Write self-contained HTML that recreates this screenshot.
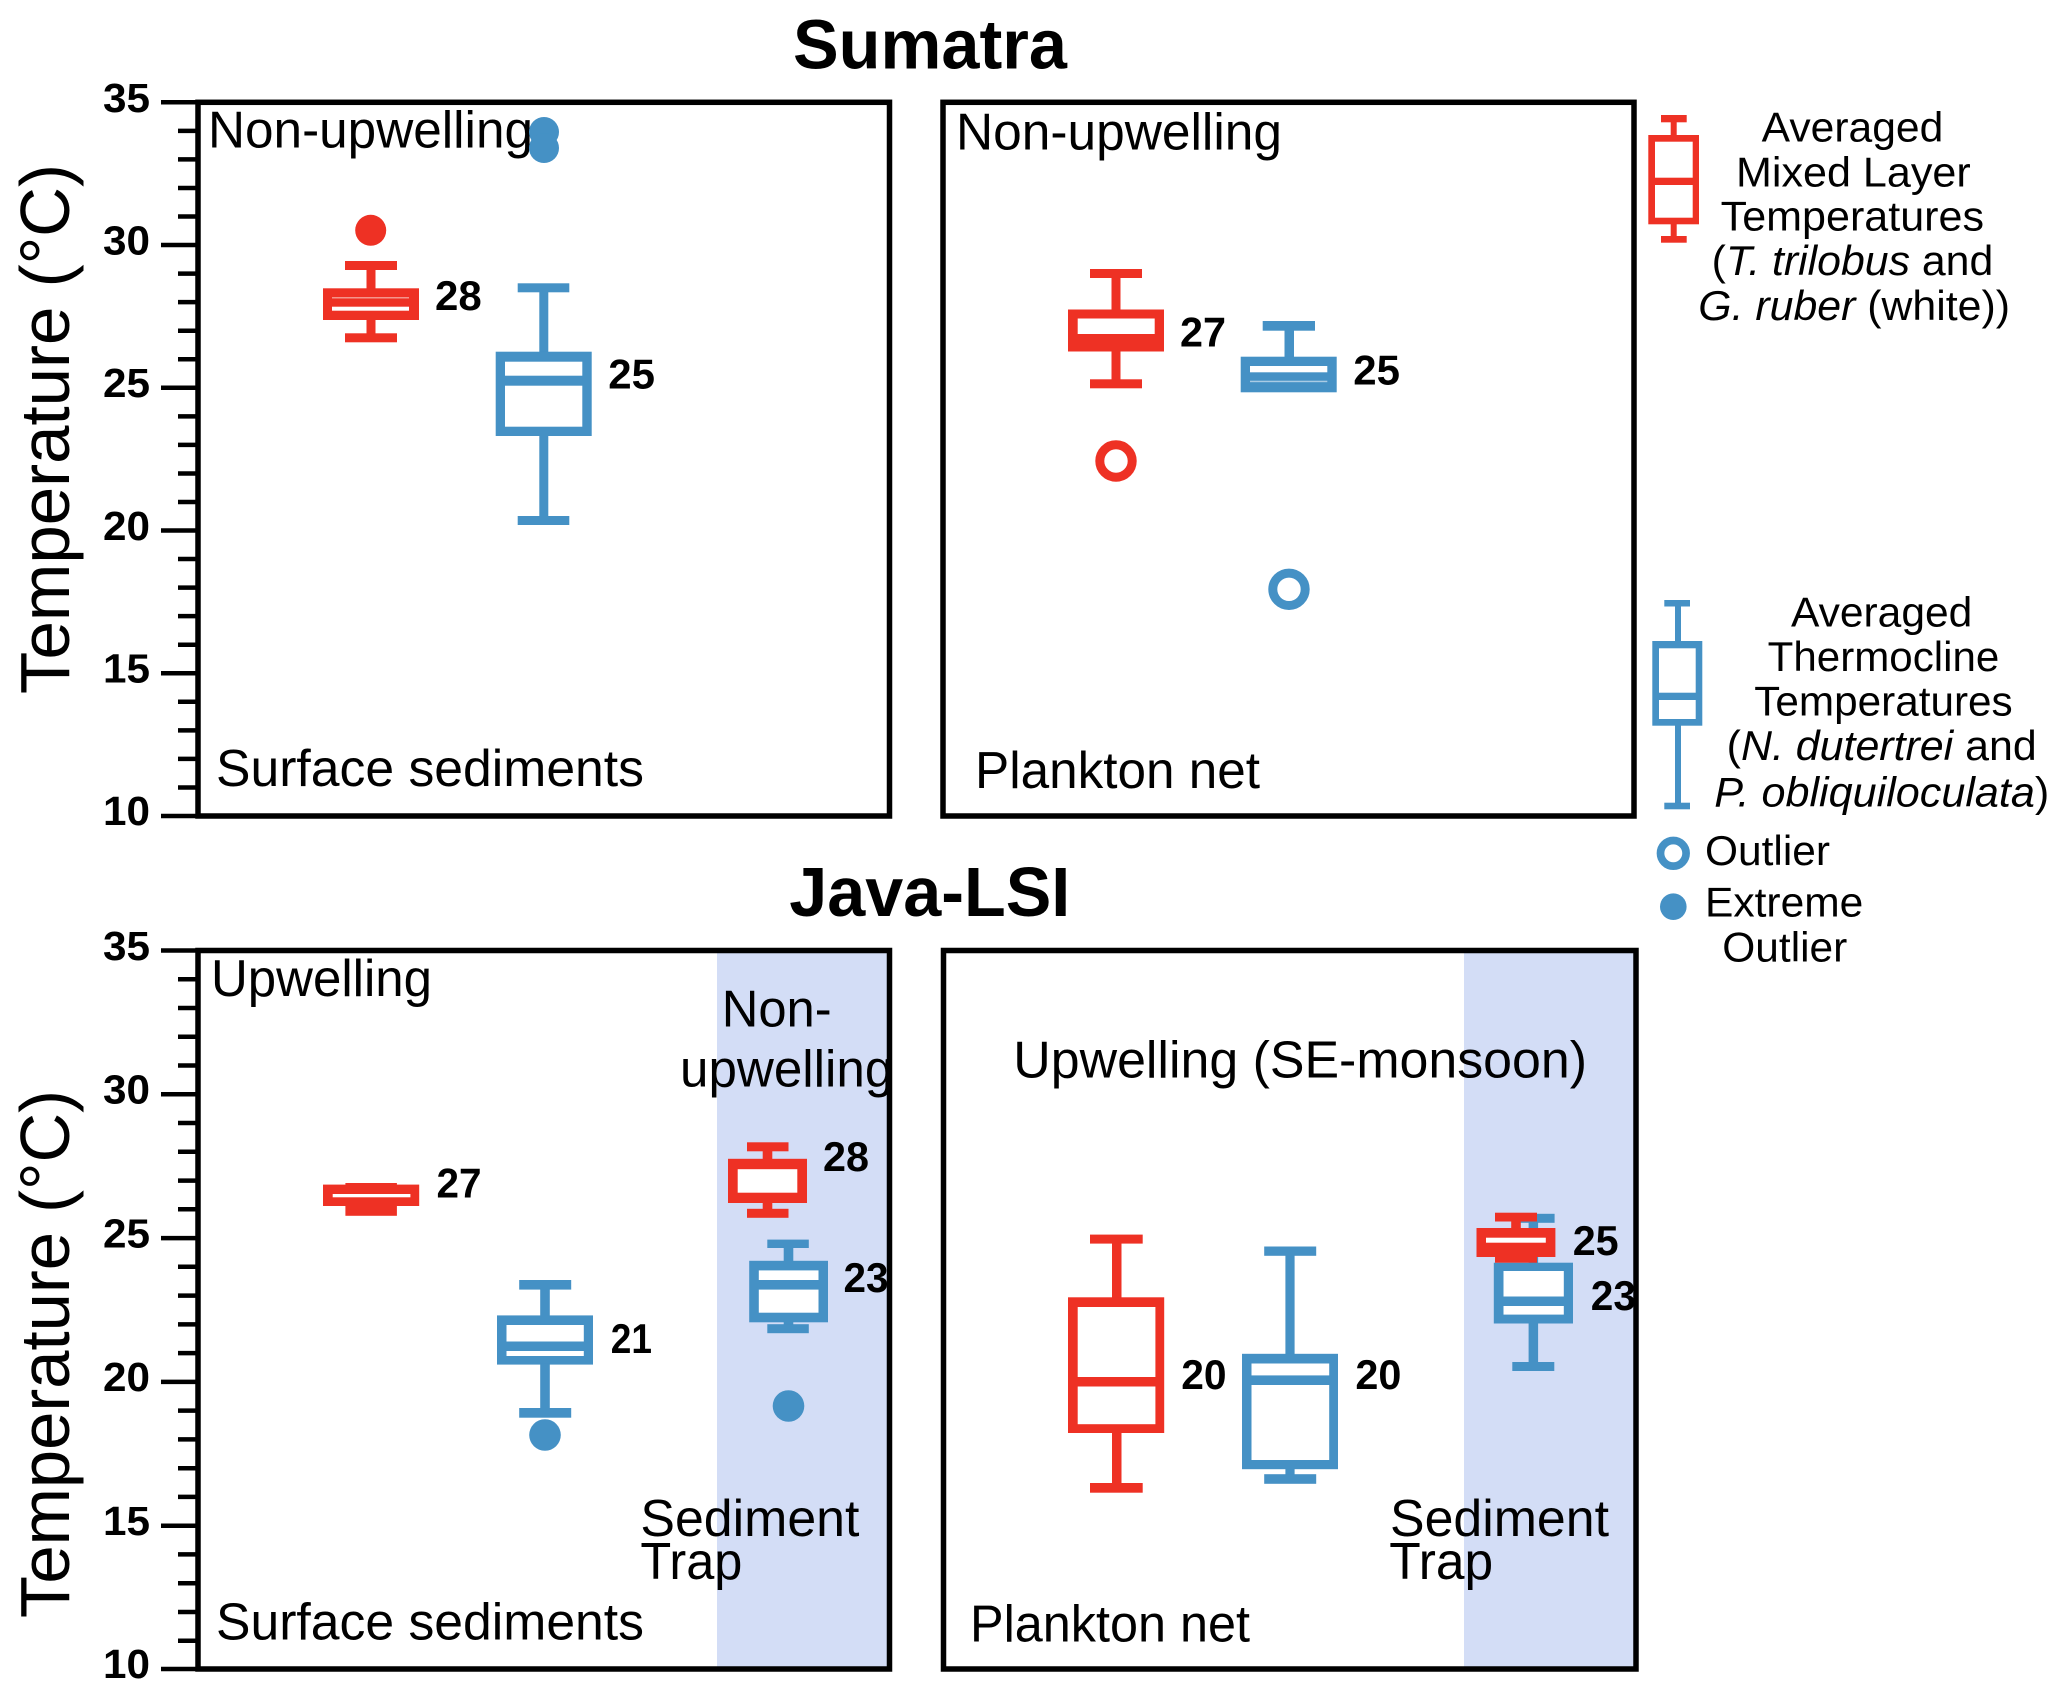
<!DOCTYPE html>
<html>
<head>
<meta charset="utf-8">
<style>
  html, body { margin: 0; padding: 0; background: #ffffff; }
  svg { display: block; }
  text { font-family: "Liberation Sans", Arial, sans-serif; fill: #000; }
  .lbl { font-size: 52px; }
  .num { font-size: 42px; font-weight: bold; }
  .tick { font-size: 41px; font-weight: bold; }
  .leg { font-size: 42px; }
  .ttl { font-size: 70px; font-weight: bold; }
  .r { fill: #ee3124; }
  .b { fill: #4591c5; }
  .w { fill: #ffffff; }
</style>
</head>
<body>
<svg width="2067" height="1693" viewBox="0 0 2067 1693" xmlns="http://www.w3.org/2000/svg">
  <rect x="0" y="0" width="2067" height="1693" fill="#ffffff"/>

  <!-- Titles -->
  <text class="ttl" x="793" y="68.3" textLength="274" lengthAdjust="spacingAndGlyphs">Sumatra</text>
  <text class="ttl" x="789.3" y="916" textLength="281" lengthAdjust="spacingAndGlyphs">Java-LSI</text>

  <!-- Shaded regions (bottom panels) -->
  <rect x="717" y="950.5" width="172.5" height="718.5" fill="#d3ddf6"/>
  <rect x="1464" y="950.5" width="172" height="718.5" fill="#d3ddf6"/>

  <!-- Frames -->
  <g fill="none" stroke="#000" stroke-width="5.5">
    <rect x="198" y="102.3" width="691.5" height="713.7"/>
    <rect x="943" y="102.3" width="691" height="713.7"/>
    <rect x="198" y="950.5" width="691.5" height="718.5"/>
    <rect x="943.5" y="950.5" width="692.5" height="718.5"/>
  </g>

  <!-- Ticks top panel -->
  <g stroke="#000" stroke-width="4.5">
    <line x1="161" y1="102.3" x2="198" y2="102.3"/>
    <line x1="178" y1="130.85" x2="198" y2="130.85"/>
    <line x1="178" y1="159.4" x2="198" y2="159.4"/>
    <line x1="178" y1="187.95" x2="198" y2="187.95"/>
    <line x1="178" y1="216.5" x2="198" y2="216.5"/>
    <line x1="161" y1="245.05" x2="198" y2="245.05"/>
    <line x1="178" y1="273.6" x2="198" y2="273.6"/>
    <line x1="178" y1="302.15" x2="198" y2="302.15"/>
    <line x1="178" y1="330.7" x2="198" y2="330.7"/>
    <line x1="178" y1="359.25" x2="198" y2="359.25"/>
    <line x1="161" y1="387.8" x2="198" y2="387.8"/>
    <line x1="178" y1="416.35" x2="198" y2="416.35"/>
    <line x1="178" y1="444.9" x2="198" y2="444.9"/>
    <line x1="178" y1="473.45" x2="198" y2="473.45"/>
    <line x1="178" y1="502" x2="198" y2="502"/>
    <line x1="161" y1="530.5" x2="198" y2="530.5"/>
    <line x1="178" y1="559.05" x2="198" y2="559.05"/>
    <line x1="178" y1="587.6" x2="198" y2="587.6"/>
    <line x1="178" y1="616.15" x2="198" y2="616.15"/>
    <line x1="178" y1="644.7" x2="198" y2="644.7"/>
    <line x1="161" y1="673.25" x2="198" y2="673.25"/>
    <line x1="178" y1="701.8" x2="198" y2="701.8"/>
    <line x1="178" y1="730.35" x2="198" y2="730.35"/>
    <line x1="178" y1="758.9" x2="198" y2="758.9"/>
    <line x1="178" y1="787.45" x2="198" y2="787.45"/>
    <line x1="161" y1="816" x2="198" y2="816"/>
  </g>
  <!-- Ticks bottom panel -->
  <g stroke="#000" stroke-width="4.5">
    <line x1="161" y1="950.5" x2="198" y2="950.5"/>
    <line x1="178" y1="979.26" x2="198" y2="979.26"/>
    <line x1="178" y1="1008.0" x2="198" y2="1008.0"/>
    <line x1="178" y1="1036.8" x2="198" y2="1036.8"/>
    <line x1="178" y1="1065.5" x2="198" y2="1065.5"/>
    <line x1="161" y1="1094.3" x2="198" y2="1094.3"/>
    <line x1="178" y1="1123.0" x2="198" y2="1123.0"/>
    <line x1="178" y1="1151.8" x2="198" y2="1151.8"/>
    <line x1="178" y1="1180.6" x2="198" y2="1180.6"/>
    <line x1="178" y1="1209.3" x2="198" y2="1209.3"/>
    <line x1="161" y1="1238.1" x2="198" y2="1238.1"/>
    <line x1="178" y1="1266.8" x2="198" y2="1266.8"/>
    <line x1="178" y1="1295.6" x2="198" y2="1295.6"/>
    <line x1="178" y1="1324.4" x2="198" y2="1324.4"/>
    <line x1="178" y1="1353.1" x2="198" y2="1353.1"/>
    <line x1="161" y1="1381.9" x2="198" y2="1381.9"/>
    <line x1="178" y1="1410.6" x2="198" y2="1410.6"/>
    <line x1="178" y1="1439.4" x2="198" y2="1439.4"/>
    <line x1="178" y1="1468.2" x2="198" y2="1468.2"/>
    <line x1="178" y1="1496.9" x2="198" y2="1496.9"/>
    <line x1="161" y1="1525.7" x2="198" y2="1525.7"/>
    <line x1="178" y1="1554.4" x2="198" y2="1554.4"/>
    <line x1="178" y1="1583.2" x2="198" y2="1583.2"/>
    <line x1="178" y1="1612.0" x2="198" y2="1612.0"/>
    <line x1="178" y1="1640.7" x2="198" y2="1640.7"/>
    <line x1="161" y1="1669" x2="198" y2="1669"/>
  </g>

  <!-- Tick labels top -->
  <g class="tick" text-anchor="end">
    <text class="tick" x="150" y="112" textLength="47" lengthAdjust="spacingAndGlyphs">35</text>
    <text class="tick" x="150" y="254.5" textLength="47" lengthAdjust="spacingAndGlyphs">30</text>
    <text class="tick" x="150" y="397" textLength="47" lengthAdjust="spacingAndGlyphs">25</text>
    <text class="tick" x="150" y="540" textLength="47" lengthAdjust="spacingAndGlyphs">20</text>
    <text class="tick" x="150" y="682.5" textLength="47" lengthAdjust="spacingAndGlyphs">15</text>
    <text class="tick" x="150" y="825" textLength="47" lengthAdjust="spacingAndGlyphs">10</text>
  </g>
  <!-- Tick labels bottom -->
  <g class="tick" text-anchor="end">
    <text class="tick" x="150" y="960" textLength="47" lengthAdjust="spacingAndGlyphs">35</text>
    <text class="tick" x="150" y="1103.5" textLength="47" lengthAdjust="spacingAndGlyphs">30</text>
    <text class="tick" x="150" y="1247.5" textLength="47" lengthAdjust="spacingAndGlyphs">25</text>
    <text class="tick" x="150" y="1391" textLength="47" lengthAdjust="spacingAndGlyphs">20</text>
    <text class="tick" x="150" y="1535" textLength="47" lengthAdjust="spacingAndGlyphs">15</text>
    <text class="tick" x="150" y="1678" textLength="47" lengthAdjust="spacingAndGlyphs">10</text>
  </g>

  <!-- Y axis labels -->
  <text x="0" y="0" font-size="70" text-anchor="middle" transform="translate(69,429) rotate(-90)" textLength="530" lengthAdjust="spacingAndGlyphs">Temperature (°C)</text>
  <text x="0" y="0" font-size="70" text-anchor="middle" transform="translate(69,1354) rotate(-90)" textLength="528" lengthAdjust="spacingAndGlyphs">Temperature (°C)</text>

  <!-- ============ Top-left panel ============ -->
  <text class="lbl" x="208" y="147.3" textLength="325" lengthAdjust="spacingAndGlyphs">Non-upwelling</text>
  <text class="lbl" x="216" y="786" textLength="428" lengthAdjust="spacingAndGlyphs">Surface sediments</text>

  <!-- red -->
  <circle cx="370.7" cy="230.3" r="15.5" class="r"/>
  <rect class="r" x="345" y="261" width="52" height="9"/>
  <rect class="r" x="366.5" y="269" width="9" height="20"/>
  <rect class="r" x="323" y="288.3" width="96" height="31.7"/>
  <rect x="332" y="297" width="77" height="1.5" fill="#f4958c"/>
  <rect class="w" x="332" y="306.7" width="77" height="4"/>
  <rect class="r" x="366.5" y="319" width="9" height="15"/>
  <rect class="r" x="345" y="333.3" width="52" height="9"/>
  <text class="num" x="435" y="310" textLength="46.7" lengthAdjust="spacingAndGlyphs">28</text>

  <!-- blue -->
  <circle cx="544" cy="132" r="15" class="b"/>
  <circle cx="544" cy="148" r="15" class="b"/>
  <rect class="b" x="517.7" y="283.3" width="51.6" height="9"/>
  <rect class="b" x="539.3" y="291" width="9" height="62"/>
  <rect class="b" x="495.7" y="351.7" width="96" height="84.3"/>
  <rect class="w" x="505" y="361.7" width="77.3" height="14"/>
  <rect class="w" x="505" y="385.7" width="77.3" height="41"/>
  <rect class="b" x="539.3" y="435" width="9" height="82"/>
  <rect class="b" x="517.7" y="516" width="51.6" height="9"/>
  <text class="num" x="608.3" y="388.3" textLength="46.7" lengthAdjust="spacingAndGlyphs">25</text>

  <!-- ============ Top-right panel ============ -->
  <text class="lbl" x="956" y="149.3" textLength="326" lengthAdjust="spacingAndGlyphs">Non-upwelling</text>
  <text class="lbl" x="975" y="788" textLength="285" lengthAdjust="spacingAndGlyphs">Plankton net</text>

  <!-- red -->
  <rect class="r" x="1090" y="269" width="52" height="9"/>
  <rect class="r" x="1111.5" y="277" width="9" height="33"/>
  <rect class="r" x="1068" y="309.5" width="96" height="42"/>
  <rect class="w" x="1077.7" y="318.5" width="77" height="15.5"/>
  <rect class="r" x="1111.5" y="351" width="9" height="29"/>
  <rect class="r" x="1090" y="379.3" width="52" height="9"/>
  <circle cx="1116" cy="461" r="16.2" fill="none" stroke="#ee3124" stroke-width="9"/>
  <text class="num" x="1180" y="346.7" textLength="46" lengthAdjust="spacingAndGlyphs">27</text>

  <!-- blue -->
  <rect class="b" x="1262.7" y="321" width="52.3" height="9.7"/>
  <rect class="b" x="1284.5" y="329" width="9.5" height="28.5"/>
  <rect class="b" x="1240.7" y="356.7" width="96" height="35.6"/>
  <rect class="w" x="1250" y="366" width="77.3" height="6.3"/>
  <rect x="1250" y="380.7" width="77.3" height="1.5" fill="#a9cbe4"/>
  <circle cx="1289" cy="589.3" r="16.2" fill="none" stroke="#4591c5" stroke-width="9"/>
  <text class="num" x="1353.3" y="384.3" textLength="46.7" lengthAdjust="spacingAndGlyphs">25</text>

  <!-- ============ Legend ============ -->
  <!-- red legend box -->
  <rect class="r" x="1661" y="115" width="25.7" height="7.3"/>
  <rect class="r" x="1670.7" y="121" width="6" height="15"/>
  <rect class="r" x="1648.3" y="135" width="50.7" height="89.3"/>
  <rect class="w" x="1655" y="141.7" width="37.7" height="36"/>
  <rect class="w" x="1655" y="185" width="37.7" height="32.7"/>
  <rect class="r" x="1670.7" y="223" width="6" height="14"/>
  <rect class="r" x="1661" y="236" width="25.7" height="6.7"/>

  <text class="leg" x="1761.7" y="141.7" textLength="181.6" lengthAdjust="spacingAndGlyphs">Averaged</text>
  <text class="leg" x="1736" y="186.7" textLength="234.7" lengthAdjust="spacingAndGlyphs">Mixed Layer</text>
  <text class="leg" x="1720.7" y="230.7" textLength="263.3" lengthAdjust="spacingAndGlyphs">Temperatures</text>
  <text class="leg" x="1711.7" y="275" textLength="281.6" lengthAdjust="spacingAndGlyphs">(<tspan font-style="italic">T. trilobus</tspan> and</text>
  <text class="leg" x="1698.3" y="320" textLength="311.7" lengthAdjust="spacingAndGlyphs"><tspan font-style="italic">G. ruber</tspan> (white))</text>

  <!-- blue legend box -->
  <rect class="b" x="1664.3" y="600" width="25.7" height="6.5"/>
  <rect class="b" x="1675" y="605" width="6" height="37"/>
  <rect class="b" x="1652.3" y="641" width="50" height="84.7"/>
  <rect class="w" x="1659" y="648.3" width="36.7" height="44.4"/>
  <rect class="w" x="1659" y="700" width="36.7" height="19"/>
  <rect class="b" x="1675" y="724.5" width="6" height="79"/>
  <rect class="b" x="1664.3" y="802.7" width="25.7" height="6.6"/>

  <text class="leg" x="1791" y="626.7" textLength="181.3" lengthAdjust="spacingAndGlyphs">Averaged</text>
  <text class="leg" x="1767.7" y="671" textLength="231.6" lengthAdjust="spacingAndGlyphs">Thermocline</text>
  <text class="leg" x="1754.3" y="715.7" textLength="258.4" lengthAdjust="spacingAndGlyphs">Temperatures</text>
  <text class="leg" x="1726.7" y="760" textLength="310" lengthAdjust="spacingAndGlyphs">(<tspan font-style="italic">N. dutertrei</tspan> and</text>
  <text class="leg" x="1714.3" y="806.7" textLength="335" lengthAdjust="spacingAndGlyphs"><tspan font-style="italic">P. obliquiloculata</tspan>)</text>

  <!-- outlier legend -->
  <circle cx="1673.3" cy="853.3" r="12.8" fill="none" stroke="#4591c5" stroke-width="7.7"/>
  <text class="leg" x="1705" y="865" textLength="125" lengthAdjust="spacingAndGlyphs">Outlier</text>
  <circle cx="1673.3" cy="906.7" r="13.3" class="b"/>
  <text class="leg" x="1705" y="916.7" textLength="158.3" lengthAdjust="spacingAndGlyphs">Extreme</text>
  <text class="leg" x="1722.3" y="961.7" textLength="125" lengthAdjust="spacingAndGlyphs">Outlier</text>

  <!-- ============ Bottom-left panel ============ -->
  <text class="lbl" x="211" y="996" textLength="221" lengthAdjust="spacingAndGlyphs">Upwelling</text>
  <text class="lbl" x="721.7" y="1026.7" textLength="110" lengthAdjust="spacingAndGlyphs">Non-</text>
  <text class="lbl" x="680" y="1086.7" textLength="213.3" lengthAdjust="spacingAndGlyphs">upwelling</text>
  <text class="lbl" x="640.4" y="1535.8" textLength="219" lengthAdjust="spacingAndGlyphs">Sediment</text>
  <text class="lbl" x="640.4" y="1579.2" textLength="102" lengthAdjust="spacingAndGlyphs">Trap</text>
  <text class="lbl" x="216" y="1639.6" textLength="428" lengthAdjust="spacingAndGlyphs">Surface sediments</text>

  <!-- red surface -->
  <rect class="r" x="345.4" y="1183" width="51.5" height="3"/>
  <rect class="r" x="323" y="1184.6" width="96.2" height="21.4"/>
  <rect class="w" x="332.7" y="1194" width="77.7" height="3.3"/>
  <rect class="r" x="345.4" y="1205.5" width="51.5" height="10.3"/>
  <text class="num" x="436.5" y="1197.3" textLength="45" lengthAdjust="spacingAndGlyphs">27</text>

  <!-- blue surface -->
  <rect class="b" x="519.2" y="1280" width="52" height="9.6"/>
  <rect class="b" x="540.2" y="1288" width="9.6" height="28"/>
  <rect class="b" x="497" y="1315.4" width="96" height="49.2"/>
  <rect class="w" x="506.5" y="1325" width="77.3" height="16.5"/>
  <rect class="w" x="506.5" y="1351" width="77.3" height="5"/>
  <rect class="b" x="540.2" y="1363.6" width="9.6" height="45"/>
  <rect class="b" x="519.2" y="1408" width="52" height="9.7"/>
  <circle cx="545" cy="1435" r="15.8" class="b"/>
  <text class="num" x="610.8" y="1353" textLength="41.2" lengthAdjust="spacingAndGlyphs">21</text>

  <!-- red trap -->
  <rect class="r" x="747" y="1142.3" width="41.5" height="9"/>
  <rect class="r" x="762.7" y="1150" width="9.6" height="10"/>
  <rect class="r" x="728" y="1158.8" width="79" height="44.2"/>
  <rect class="w" x="737.7" y="1169.2" width="59.6" height="23.5"/>
  <rect class="r" x="762.7" y="1202" width="9.6" height="8"/>
  <rect class="r" x="747" y="1208.8" width="41.5" height="9"/>
  <text class="num" x="823" y="1171" textLength="46" lengthAdjust="spacingAndGlyphs">28</text>

  <!-- blue trap -->
  <rect class="b" x="767.3" y="1239.6" width="41.5" height="8.4"/>
  <rect class="b" x="783.7" y="1247" width="9.6" height="15"/>
  <rect class="b" x="749.2" y="1260.8" width="78.8" height="61.5"/>
  <rect class="w" x="758.8" y="1270.4" width="59.7" height="9.6"/>
  <rect class="w" x="758.8" y="1289.6" width="59.7" height="23.1"/>
  <rect class="b" x="783.7" y="1321" width="9.6" height="4"/>
  <rect class="b" x="767.3" y="1324.2" width="41.5" height="9"/>
  <circle cx="788.5" cy="1406" r="15.8" class="b"/>
  <text class="num" x="843.5" y="1292" textLength="45" lengthAdjust="spacingAndGlyphs">23</text>

  <!-- ============ Bottom-right panel ============ -->
  <text class="lbl" x="1013.3" y="1077.3" textLength="573.7" lengthAdjust="spacingAndGlyphs">Upwelling (SE-monsoon)</text>
  <text class="lbl" x="1390" y="1535.8" textLength="219" lengthAdjust="spacingAndGlyphs">Sediment</text>
  <text class="lbl" x="1389.2" y="1579" textLength="104" lengthAdjust="spacingAndGlyphs">Trap</text>
  <text class="lbl" x="970" y="1641.5" textLength="280" lengthAdjust="spacingAndGlyphs">Plankton net</text>

  <!-- red plankton -->
  <rect class="r" x="1090" y="1234.6" width="52.7" height="9"/>
  <rect class="r" x="1112" y="1242.5" width="9.5" height="56"/>
  <rect class="r" x="1068" y="1297.3" width="96.2" height="135.7"/>
  <rect class="w" x="1077.7" y="1307" width="77.7" height="70"/>
  <rect class="w" x="1077.7" y="1386.5" width="77.7" height="37.7"/>
  <rect class="r" x="1112" y="1432" width="9.5" height="52"/>
  <rect class="r" x="1090" y="1483" width="52.7" height="9.7"/>
  <text class="num" x="1181.2" y="1388.8" textLength="45.3" lengthAdjust="spacingAndGlyphs">20</text>

  <!-- blue plankton -->
  <rect class="b" x="1264.2" y="1246.5" width="52" height="9.3"/>
  <rect class="b" x="1285.4" y="1255" width="9.2" height="100"/>
  <rect class="b" x="1242" y="1353.8" width="96" height="115.4"/>
  <rect class="w" x="1251.5" y="1363.5" width="77.7" height="11.9"/>
  <rect class="w" x="1251.5" y="1385" width="77.7" height="75"/>
  <rect class="b" x="1285.4" y="1468" width="9.2" height="7"/>
  <rect class="b" x="1264.2" y="1474.2" width="52" height="9.6"/>
  <text class="num" x="1355.4" y="1388.8" textLength="46" lengthAdjust="spacingAndGlyphs">20</text>

  <!-- blue trap (behind) -->
  <rect class="b" x="1512.3" y="1213.8" width="42.3" height="9"/>
  <rect class="b" x="1528.6" y="1222" width="9.5" height="41.5"/>
  <rect class="b" x="1493.8" y="1262.7" width="79.2" height="60.8"/>
  <rect class="w" x="1503.5" y="1271" width="60.3" height="25.5"/>
  <rect class="w" x="1503.5" y="1306" width="60.3" height="8.6"/>
  <rect class="b" x="1528.6" y="1322.5" width="9.5" height="40"/>
  <rect class="b" x="1512.3" y="1362" width="42" height="9"/>

  <!-- red trap (front) -->
  <rect class="r" x="1495" y="1212.7" width="42" height="8.8"/>
  <rect class="r" x="1511.2" y="1220.5" width="9.6" height="8.5"/>
  <rect class="r" x="1476.5" y="1228" width="78.9" height="29"/>
  <rect class="w" x="1486" y="1237.7" width="59.8" height="5"/>
  <rect class="r" x="1495" y="1256.5" width="42" height="6.2"/>

  <text class="num" x="1572.7" y="1255" textLength="46" lengthAdjust="spacingAndGlyphs">25</text>
  <text class="num" x="1590.8" y="1310" textLength="45.2" lengthAdjust="spacingAndGlyphs">23</text>
</svg>
</body>
</html>
